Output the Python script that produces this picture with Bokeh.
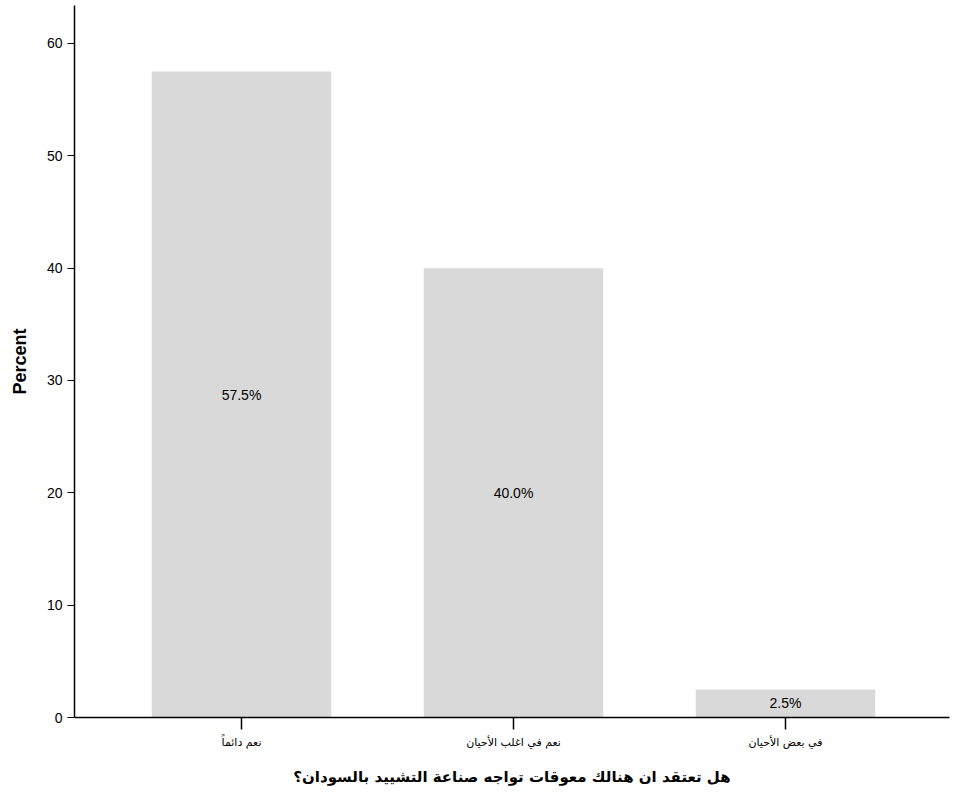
from bokeh.plotting import figure
from bokeh.models import Range1d, ColumnDataSource, FixedTicker
from bokeh.core.properties import value
from bokeh.embed import file_html
from bokeh.resources import INLINE

categories = ["نعم دائماً", "نعم في اغلب الأحيان", "في بعض الأحيان"]
percent = [57.5, 40.0, 2.5]
bar_labels = ["57.5%", "40.0%", "2.5%"]
y_ticks = [0, 10, 20, 30, 40, 50, 60]

xpos = [1, 2, 3]
src = ColumnDataSource(dict(x=xpos, top=percent, mid=[v / 2 for v in percent], lab=bar_labels))

p = figure(output_backend="svg", toolbar_location=None,
           frame_width=875, frame_height=712,
           x_range=Range1d(0.386, 3.603), y_range=Range1d(0, 63.38),
           min_border_left=74, min_border_top=5, min_border_right=8, min_border_bottom=60)
p.outline_line_color = None
p.grid.visible = False
p.background_fill_color = "white"

p.vbar(x="x", top="top", width=0.66, bottom=0, source=src,
       fill_color="#d9d9d9", line_color=None)
p.text(x="x", y="mid", text="lab", source=src, text_align="center", text_baseline="middle",
       text_font=value("Liberation Sans"), text_font_size="14px", text_color="black")

p.yaxis.ticker = FixedTicker(ticks=y_ticks)
p.yaxis.minor_tick_line_color = None
p.yaxis.major_tick_in = 0
p.yaxis.major_tick_out = 7
p.yaxis.major_label_text_font = "Liberation Sans"
p.yaxis.major_label_text_font_size = "14px"
p.yaxis.major_label_text_color = "black"
p.yaxis.axis_line_color = "black"
p.yaxis.axis_line_width = 1.5
p.yaxis.axis_label = "Percent"
p.yaxis.axis_label_text_font = "Liberation Sans"
p.yaxis.axis_label_text_font_style = "bold"
p.yaxis.axis_label_text_font_size = "18px"
p.yaxis.axis_label_text_color = "black"
p.yaxis.axis_label_standoff = 14

p.xaxis.ticker = FixedTicker(ticks=xpos)
p.xaxis.major_label_overrides = {x: c for x, c in zip(xpos, categories)}
p.xaxis.minor_tick_line_color = None
p.xaxis.major_tick_in = 0
p.xaxis.major_tick_out = 12
p.xaxis.major_tick_line_width = 1.5
p.xaxis.major_label_text_font = "DejaVu Sans"
p.xaxis.major_label_text_font_size = "11px"
p.xaxis.major_label_text_color = "black"
p.xaxis.major_label_standoff = 6
p.xaxis.axis_line_color = "black"
p.xaxis.axis_line_width = 1.5
p.xaxis.axis_label = "هل تعتقد ان هنالك معوقات تواجه صناعة التشييد بالسودان؟"
p.xaxis.axis_label_text_font = "DejaVu Sans"
p.xaxis.axis_label_text_font_style = "bold"
p.xaxis.axis_label_text_font_size = "15px"
p.xaxis.axis_label_text_color = "black"
p.xaxis.axis_label_standoff = 16

open("out.html", "w").write(file_html(p, INLINE))
